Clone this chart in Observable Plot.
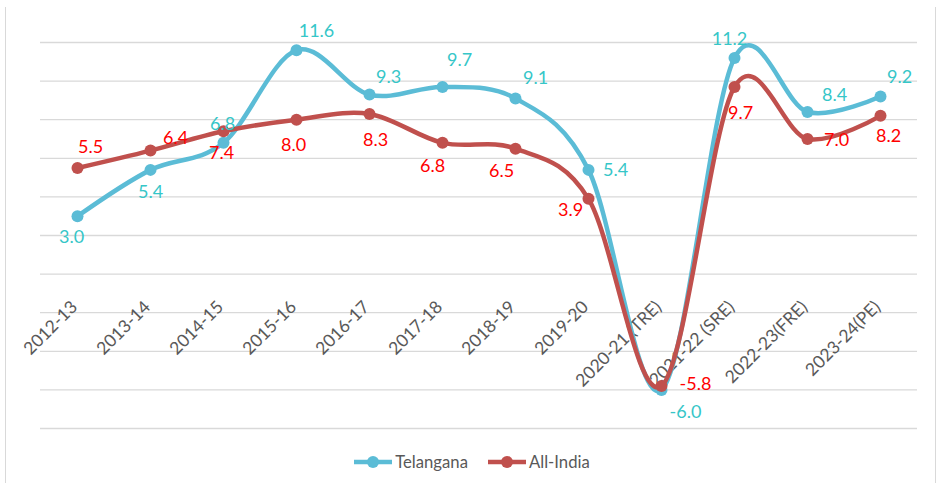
<!DOCTYPE html>
<html><head><meta charset="utf-8">
<script src="https://cdn.jsdelivr.net/npm/d3@7"></script>
<script src="https://cdn.jsdelivr.net/npm/@observablehq/plot@0.6"></script>
<style>
body{margin:0;background:#fff;font-family:Lato,sans-serif;}
#wrap{position:relative;width:937px;height:483px;overflow:hidden;background:#fff;}
#frame{position:absolute;left:5px;top:7px;width:929px;height:480px;border-left:1.5px solid #d9d9d9;border-right:1.5px solid #d9d9d9;pointer-events:none;}
#legend{display:flex;justify-content:center;align-items:center;height:43px;font-size:16.7px;color:#595959;padding-left:7px;font-family:Lato,sans-serif;}
#legend .item{display:flex;align-items:center;}
#legend svg{margin-right:3px;}
#chart svg{overflow:visible;display:block;}
</style></head><body>
<div id="wrap"><div id="chart"></div><div id="legend"></div><div id="frame"></div></div>
<script>
const years = ["2012-13","2013-14","2014-15","2015-16","2016-17","2017-18","2018-19","2019-20","2020-21 (TRE)","2021-22 (SRE)","2022-23(FRE)","2023-24(PE)"];
const telangana = [3.0,5.4,6.8,11.6,9.3,9.7,9.1,5.4,-6.0,11.2,8.4,9.2];
const allIndia = [5.5,6.4,7.4,8.0,8.3,6.8,6.5,3.9,-5.8,9.7,7.0,8.2];
const gridTicks = [-8,-6,-4,-2,0,2,4,6,8,10,12];
const seriesNames = ["Telangana","All-India"];
const lineColors = ["#5BBCD6","#C0504D"];
const labelColors = ["#36C6C8","#FF0000"];
// label nudges in pixels (layout only)
const tNudge = [[-6,21],[0,22],[-1,-19],[20,-19],[19,-17],[17,-27],[20,-20],[27,0],[24,22],[-5,-19],[27,-17],[19,-19]];
const aNudge = [[13,-21],[25,-12],[-2,22],[-3,26],[6,26],[-10,23],[-14,23],[-18,11],[34,-2],[6,26],[29,1],[8,20]];

const rows = years.map((year, i) => ({year, telangana: telangana[i], allIndia: allIndia[i]}));
const font = "Lato, sans-serif";

const labelMarks = [];
rows.forEach((r, i) => {
  labelMarks.push(Plot.text([r], {x: "year", y: "telangana", text: d => d.telangana.toFixed(1),
    dx: tNudge[i][0], dy: tNudge[i][1], fill: labelColors[0], fontSize: 18, fontFamily: font}));
  labelMarks.push(Plot.text([r], {x: "year", y: "allIndia", text: d => d.allIndia.toFixed(1),
    dx: aNudge[i][0], dy: aNudge[i][1], fill: labelColors[1], fontSize: 18, fontFamily: font}));
});

const chart = Plot.plot({
  width: 937, height: 440,
  marginLeft: 40, marginRight: 20, marginTop: 42, marginBottom: 12,
  style: {background: "transparent", fontFamily: font},
  x: {type: "point", domain: years, padding: 0.5, axis: null},
  y: {domain: [-8, 12], axis: null},
  marks: [
    Plot.ruleY(gridTicks, {stroke: "#d9d9d9", strokeWidth: 1.3}),
    Plot.text(years, {x: d => d, y: () => 0, text: d => d, rotate: -45, textAnchor: "end",
      dx: -3, dy: 30, fill: "#595959", fontSize: 17.5, fontFamily: font}),
    Plot.line(rows, {x: "year", y: "telangana", stroke: lineColors[0], strokeWidth: 4.5, curve: "cardinal"}),
    Plot.dot(rows, {x: "year", y: "telangana", r: 6, fill: lineColors[0], stroke: "none"}),
    Plot.line(rows, {x: "year", y: "allIndia", stroke: lineColors[1], strokeWidth: 4.5, curve: "cardinal"}),
    Plot.dot(rows, {x: "year", y: "allIndia", r: 6, fill: lineColors[1], stroke: "none"}),
    ...labelMarks
  ]
});
document.getElementById("chart").appendChild(chart);

const legend = document.getElementById("legend");
seriesNames.forEach((name, i) => {
  const item = document.createElement("div");
  item.className = "item";
  if (i > 0) item.style.marginLeft = "20px";
  item.innerHTML = `<svg width="38" height="14"><line x1="0" y1="7" x2="38" y2="7" stroke="${lineColors[i]}" stroke-width="4.5" stroke-linecap="round"/><circle cx="19" cy="7" r="6" fill="${lineColors[i]}"/></svg><span>${name}</span>`;
  legend.appendChild(item);
});
</script>
</body></html>
